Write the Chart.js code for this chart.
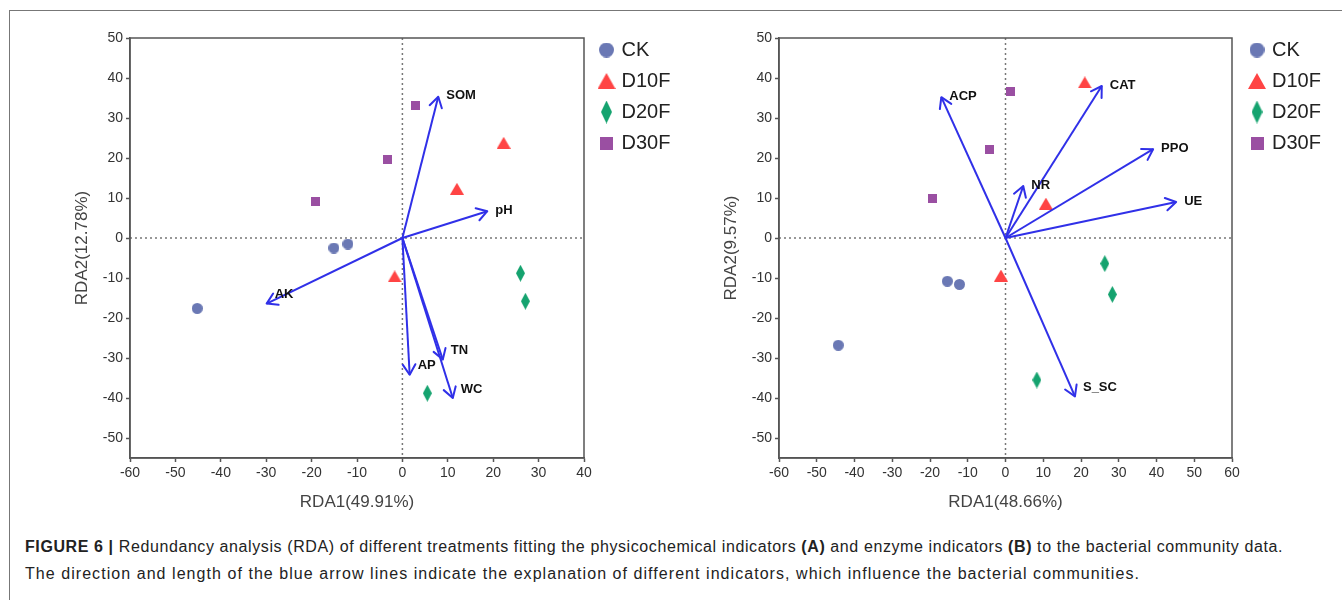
<!DOCTYPE html>
<html>
<head>
<meta charset="utf-8">
<title>RDA</title>
<script src="https://cdn.jsdelivr.net/npm/chart.js@4.4.1/dist/chart.umd.min.js"></script>
<style>
  html, body { margin: 0; padding: 0; background: #fff; }
  body { width: 1342px; height: 600px; position: relative; overflow: hidden; font-family: "Liberation Sans", Arial, sans-serif; }
  #frame { position: absolute; left: 9px; top: 10px; width: 1400px; height: 700px; border-left: 1px solid #777; border-top: 1px solid #777; }
  #chartA { position: absolute; left: 0; top: 0; }
  #chartB { position: absolute; left: 680px; top: 0; }
  .cap { position: absolute; left: 25px; font-size: 16px; line-height: 20px; color: #222; white-space: nowrap; }
  #cap1 { top: 537px; }
  #cap2 { top: 564px; }
</style>
</head>
<body>
<div id="frame"></div>
<canvas id="chartA" width="680" height="520"></canvas>
<canvas id="chartB" width="662" height="520"></canvas>
<div class="cap" id="cap1"><b>FIGURE 6 |</b> Redundancy analysis (RDA) of different treatments fitting the physicochemical indicators <b>(A)</b> and enzyme indicators <b>(B)</b> to the bacterial community data.</div>
<div class="cap" id="cap2">The direction and length of the blue arrow lines indicate the explanation of different indicators, which influence the bacterial communities.</div>

<script>
const FONT = '"Liberation Sans", Arial, sans-serif';

// groups
const groups = ['CK', 'D10F', 'D20F', 'D30F'];
const groupColors = ['#6a78b4', '#ff4444', '#15a36f', '#9a4fa2'];

// panel A: samples
const ckXA = [-15.1, -12.0, -45.2];
const ckYA = [-2.5, -1.5, -17.6];
const d10XA = [22.3, 12.0, -1.7];
const d10YA = [23.8, 12.3, -9.6];
const d20XA = [26.0, 27.1, 5.5];
const d20YA = [-8.8, -15.8, -38.8];
const d30XA = [2.8, -3.3, -19.1];
const d30YA = [33.1, 19.6, 9.1];

// panel A: physicochemical arrows
const envNamesA = ['SOM', 'pH', 'AK', 'TN', 'AP', 'WC'];
const envXA = [7.9, 18.7, -29.9, 8.9, 1.6, 11.1];
const envYA = [35.3, 6.7, -16.4, -30.4, -34.2, -40.0];

// panel B: samples
const ckXB = [-15.4, -12.2, -44.3];
const ckYB = [-10.8, -11.6, -26.8];
const d10XB = [21.0, 10.7, -1.2];
const d10YB = [38.9, 8.6, -9.4];
const d20XB = [26.3, 28.3, 8.3];
const d20YB = [-6.4, -14.1, -35.5];
const d30XB = [1.2, -4.3, -19.4];
const d30YB = [36.6, 22.2, 9.9];

// panel B: enzyme arrows
const envNamesB = ['ACP', 'CAT', 'PPO', 'UE', 'NR', 'S_SC'];
const envXB = [-17.0, 25.5, 39.1, 45.2, 4.7, 18.4];
const envYB = [35.2, 38.0, 22.2, 9.0, 13.0, -39.6];

// axes
const yMin = -55, yMax = 50;
const xRangeA = [-60, 40];
const xRangeB = [-60, 60];
const xTitleA = 'RDA1(49.91%)', yTitleA = 'RDA2(12.78%)';
const xTitleB = 'RDA1(48.66%)', yTitleB = 'RDA2(9.57%)';

const arrowColor = '#3030e8';

function marker(shape, w, h, color) {
    const c = document.createElement('canvas');
    c.width = w;
    c.height = h;
    const g = c.getContext('2d');
    g.fillStyle = color;
    g.beginPath();
    if (shape === 'circle') {
        g.arc(w / 2, h / 2, w / 2, 0, Math.PI * 2);
    } else if (shape === 'triangle') {
        g.moveTo(w / 2, 0); g.lineTo(w, h); g.lineTo(0, h); g.closePath();
    } else if (shape === 'diamond') {
        g.moveTo(w / 2, 0); g.lineTo(w, h / 2); g.lineTo(w / 2, h); g.lineTo(0, h / 2); g.closePath();
    } else {
        g.rect(0, 0, w, h);
    }
    g.fill();
    return c;
}

const pointMarks = [
    marker('circle', 11, 11, groupColors[0]),
    marker('triangle', 14, 12, groupColors[1]),
    marker('diamond', 9, 17, groupColors[2]),
    marker('square', 9, 9, groupColors[3])
];
const legendMarks = [
    marker('circle', 15, 15, groupColors[0]),
    marker('triangle', 18, 16, groupColors[1]),
    marker('diamond', 11, 23, groupColors[2]),
    marker('square', 13, 13, groupColors[3])
];

function zip(xs, ys) {
    return xs.map((x, i) => ({ x: x, y: ys[i] }));
}

function buildDatasets(samples, names, ex, ey) {
    const ds = [];
    // arrows first so the sample marks sit on top
    names.forEach((n, i) => {
        ds.push({
            label: n,
            isArrow: true,
            data: [{ x: 0, y: 0 }, { x: ex[i], y: ey[i] }],
            showLine: true,
            borderColor: arrowColor,
            borderWidth: 2,
            pointRadius: 0,
            fill: false
        });
    });
    samples.forEach((s, i) => {
        ds.push({
            label: groups[i],
            data: zip(s[0], s[1]),
            pointStyle: pointMarks[i],
            backgroundColor: groupColors[i],
            borderColor: groupColors[i]
        });
    });
    return ds;
}

const rdaDecor = {
    id: 'rdaDecor',
    afterLayout(chart, args, opts) {
        // put the legend where the figure has it, clear of the frame
        const lg = chart.legend;
        lg.left = opts.legendLeft;
        lg.width = 100;
        lg.right = opts.legendLeft + 100;
        lg.top = opts.legendTop;
    },
    beforeDatasetsDraw(chart) {
        const { ctx, chartArea } = chart;
        const x0 = chart.scales.x.getPixelForValue(0);
        const y0 = chart.scales.y.getPixelForValue(0);
        ctx.save();
        ctx.strokeStyle = '#777';
        ctx.lineWidth = 1.5;
        ctx.setLineDash([2, 3]);
        ctx.beginPath();
        ctx.moveTo(x0, chartArea.top);
        ctx.lineTo(x0, chartArea.bottom);
        ctx.moveTo(chartArea.left, y0);
        ctx.lineTo(chartArea.right, y0);
        ctx.stroke();
        ctx.restore();
    },
    afterDatasetsDraw(chart) {
        const ctx = chart.ctx;
        ctx.save();
        chart.data.datasets.forEach((ds, i) => {
            if (!ds.isArrow) return;
            const meta = chart.getDatasetMeta(i);
            const a = meta.data[0], b = meta.data[1];
            const ang = Math.atan2(b.y - a.y, b.x - a.x);
            const len = 12, spread = 0.55;
            ctx.strokeStyle = arrowColor;
            ctx.lineWidth = 2;
            ctx.lineJoin = 'round';
            ctx.lineCap = 'round';
            ctx.beginPath();
            ctx.moveTo(b.x - len * Math.cos(ang - spread), b.y - len * Math.sin(ang - spread));
            ctx.lineTo(b.x, b.y);
            ctx.lineTo(b.x - len * Math.cos(ang + spread), b.y - len * Math.sin(ang + spread));
            ctx.stroke();

            ctx.fillStyle = '#111';
            ctx.font = 'bold 13px ' + FONT;
            ctx.textAlign = 'left';
            ctx.textBaseline = 'middle';
            const dy = b.y > a.y ? -9 : -1;
            ctx.fillText(ds.label, b.x + 8, b.y + dy);
        });
        ctx.restore();
    },
    afterDraw(chart) {
        const { ctx, chartArea } = chart;
        ctx.save();
        ctx.strokeStyle = '#555';
        ctx.lineWidth = 1.5;
        ctx.strokeRect(chartArea.left, chartArea.top, chartArea.right - chartArea.left, chartArea.bottom - chartArea.top);
        ctx.restore();
    }
};

function makeOptions(xRange, xTitle, yTitle, pad, legendLeft) {
    return {
        responsive: false,
        animation: false,
        events: [],
        layout: { padding: pad },
        scales: {
            x: {
                type: 'linear',
                position: 'bottom',
                min: xRange[0],
                max: xRange[1],
                ticks: { stepSize: 10, color: '#333', font: { size: 14, family: FONT }, padding: 3, maxRotation: 0, autoSkip: false },
                grid: { drawOnChartArea: false, drawTicks: true, tickLength: 4, tickColor: '#555', tickWidth: 1.5 },
                border: { color: '#555', width: 1.5 },
                title: { display: true, text: xTitle, color: '#444', font: { size: 17, family: FONT }, padding: { top: 0, bottom: 5 } },
                afterFit: s => { s.height = 60; }
            },
            y: {
                type: 'linear',
                min: yMin,
                max: yMax,
                ticks: { stepSize: 10, color: '#333', font: { size: 14, family: FONT }, padding: 3 },
                afterBuildTicks: s => { s.ticks = s.ticks.filter(t => t.value % 10 === 0); },
                grid: { drawOnChartArea: false, drawTicks: true, tickLength: 4, tickColor: '#555', tickWidth: 1.5 },
                border: { color: '#555', width: 1.5 },
                title: { display: true, text: yTitle, color: '#444', font: { size: 17, family: FONT }, padding: { top: 2, bottom: 0 } },
                afterFit: s => { s.width = 60; }
            }
        },
        plugins: {
            tooltip: { enabled: false },
            rdaDecor: { legendLeft: legendLeft, legendTop: 29 },
            legend: {
                position: 'right',
                align: 'start',
                maxWidth: 60,
                labels: {
                    usePointStyle: true,
                    pointStyleWidth: 10,
                    padding: 11,
                    color: '#222',
                    font: { size: 20, family: FONT },
                    generateLabels: () => groups.map((g, i) => ({
                        text: g,
                        pointStyle: legendMarks[i],
                        fillStyle: groupColors[i],
                        strokeStyle: groupColors[i],
                        lineWidth: 0,
                        hidden: false,
                        fontColor: '#222'
                    }))
                }
            }
        }
    };
}

new Chart(document.getElementById('chartA').getContext('2d'), {
    type: 'scatter',
    data: {
        datasets: buildDatasets(
            [[ckXA, ckYA], [d10XA, d10YA], [d20XA, d20YA], [d30XA, d30YA]],
            envNamesA, envXA, envYA)
    },
    options: makeOptions(xRangeA, xTitleA, yTitleA, { left: 70, right: 36, top: 38, bottom: 2 }, 590.5),
    plugins: [rdaDecor]
});

new Chart(document.getElementById('chartB').getContext('2d'), {
    type: 'scatter',
    data: {
        datasets: buildDatasets(
            [[ckXB, ckYB], [d10XB, d10YB], [d20XB, d20YB], [d30XB, d30YB]],
            envNamesB, envXB, envYB)
    },
    options: makeOptions(xRangeB, xTitleB, yTitleB, { left: 39, right: 50, top: 38, bottom: 2 }, 561),
    plugins: [rdaDecor]
});

// squeeze caption lines to the widths in the figure
function fitLine(el, target) {
    const w = el.getBoundingClientRect().width;
    const n = el.textContent.length;
    el.style.letterSpacing = ((target - w) / n).toFixed(3) + 'px';
}
fitLine(document.getElementById('cap1'), 1258);
fitLine(document.getElementById('cap2'), 1115);
</script>
</body>
</html>
